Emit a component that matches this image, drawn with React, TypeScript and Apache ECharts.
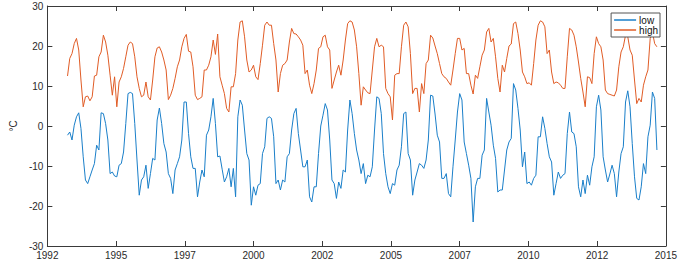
import React, { useEffect, useRef } from "react";
import * as echarts from "echarts";

// Monthly series, first month = Oct 1992
const startYear = 1992;
const startMonthOffset = 9; // months after Jan 1992

const xTickStart = 1992;
const xTickEnd = 2015;
const xTickCount = 9; // intervals

const yTicks = [-30, -20, -10, 0, 10, 20, 30];

const seriesNames = ["low", "high"];

const low = [
  -2.3, -1.5, -3.5, 0.2, 2.3, 3.3, -0.6, -7.7, -13.5, -14.4, -12.7, -11, -9.4, -4.8, -6, 3.3, 3.1, 0.6, -3.5, -11.9, -11.5, -12.5, -12.7, -9.8, -9.4, -6.5, 0.6, 8.1, 8.4, 8.1, 0.6, -8.5, -17.3,
  -13.5, -12.7, -9.8, -15.6, -11.9, -8.1, -8.5, 1.5, 4.5, 0.6, -4.4, -6.5, -11.9, -13.1, -16.9, -11, -9.4, -7.7, -3.5, 6, 6, -1.9, -7.7, -10.6, -10.6, -17.7, -14, -11, -12.7, -2.3, -1, 2.3,
  6.9, 0.6, -7.7, -7.5, -10.8, -14, -12.7, -10.6, -15.2, -10.6, -17.7, 2.3, 6.5, 5.2, -1, -6.9, -8.5, -19.8, -15.2, -17.3, -14.8, -14.4, -6.9, -5.2, 1.9, 2.3, 1.9, -2.7, -14.4, -13.5, -16, -13.5, -14, -7.7,
  -6.9, -1, 3.1, 4.4, -1.9, -6, -10.2, -10.2, -8.5, -17.7, -19, -15.2, -15.2, -6.9, 0, 2.7, 5.6, 4, -3.5, -13.5, -14.4, -18.1, -14, -15.6, -11, -11.5, -1, 6.5, 3.1, -1.9, -6, -8.5, -11.9,
  -9.4, -14.4, -12.3, -12.7, -10.2, -1, 7.3, 6.9, 3.1, -6.9, -11.9, -15.2, -16.9, -14.4, -14.8, -11, -9.8, -5.2, 3.1, 3.5, -6.9, -8.5, -17.3, -13.5, -11.5, -9.4, -9.8, -10.6, -8.5, -3.5, 7.7, 7.5, 3,
  -2.3, -4, -13.1, -13.1, -11.9, -16.9, -17.7, -10.2, -3.5, 3.5, 8.1, 6.5, -4, -6.9, -9.8, -13.1, -24, -15.2, -13.1, -13.1, -7.3, -6, 6.9, 3.5, 0.2, -4.8, -8.1, -16.5, -16, -16, -11, -6, -4,
  -3.1, 10.6, 9, 4.4, -1, -10.2, -6.5, -14.4, -14, -14.8, -13.1, -12.3, -2.7, -2.7, 2.3, -0.6, -4.4, -7.7, -9, -17.3, -14.4, -11.5, -13.1, -12.3, -11.9, -1.9, 3.5, -1.5, -1.9, -5.2, -15.2, -17.7, -13.5,
  -16.9, -12.3, -14.8, -10.2, -7.7, 4.8, 7.7, 4, -7.7, -11, -14, -12, -9.8, -11.9, -17.7, -11.5, -6.9, -5.2, 6, 8.8, 4.8, -4.4, -12.7, -18.1, -18.5, -15.2, -9.4, -11.9, -2.7, 0.2, 8.5, 6.9, -6,
];

const high = [
  12.5, 16.9, 18.1, 20.6, 21.9, 19, 11.5, 4.8, 7.3, 7.5, 6.3, 7.3, 12.5, 12.7, 17.3, 18.5, 22.7, 21, 17.7, 12.7, 7.7, 12.3, 4.8, 11, 12.3, 14.4, 17.3, 20.2, 21, 20.6, 17.3, 12.3, 9.4,
  7.3, 7.7, 11, 7.3, 6.5, 11.5, 17.3, 19.5, 19.8, 18.5, 16.5, 14, 6.6, 7.7, 9.4, 11.9, 14.8, 16.5, 19.8, 21.9, 22.9, 18.7, 18.5, 14.8, 7.7, 6.6, 6.9, 7.3, 14, 14, 15.2, 17.3,
  21.5, 17.9, 23, 12.3, 10.2, 8.1, 4.4, 3.5, 9.8, 9.8, 13.1, 21.5, 26, 26.3, 22.3, 16.5, 13.5, 14, 15.2, 12.3, 11.6, 15.6, 20.2, 25.2, 26, 25.2, 25.2, 20.6, 16.5, 8.5, 13.1, 15.2, 15.6, 16.5,
  21, 24.4, 23.1, 23, 22.3, 21.5, 20.2, 13.1, 14, 10.2, 8.1, 10.6, 14, 19.4, 19.8, 22.3, 22.7, 19.8, 19, 9.4, 11.5, 13.5, 15.2, 12.7, 16.5, 21.5, 25.6, 26.3, 26, 24, 19.8, 13.1, 5.2,
  9.8, 9, 8.3, 8.1, 14, 19.8, 21.9, 19.8, 20.2, 19.8, 9.4, 8.1, 7.3, 1.5, 12.7, 13.1, 13.1, 19.8, 25.2, 26, 24.8, 18.1, 8.1, 9.4, 9.4, 3.5, 10.6, 8.1, 15.6, 16.5, 22.7, 22, 20,
  18.1, 15.6, 13.1, 12.3, 11.9, 11, 10.2, 14, 18.1, 21.9, 21.9, 19, 19.4, 13.1, 13.1, 10.2, 8, 12.7, 11.9, 14.8, 17.7, 19, 23.5, 24.4, 21, 21.9, 17.3, 11.9, 8.5, 15.2, 13.5, 16.9, 20,
  20.5, 25.6, 26, 23.1, 19, 13.5, 12.3, 10.6, 10.8, 10.2, 15.6, 21.5, 25.2, 26.3, 26, 24.8, 18.1, 19, 13.5, 10.6, 11, 10.8, 10.2, 9.4, 9.4, 17.3, 24.4, 24, 22.7, 19.8, 16, 11.9, 8.5,
  4.8, 12.3, 12.1, 10.6, 18.1, 22.3, 20.6, 19.8, 16.5, 9, 8.1, 7.9, 7.7, 7.5, 9, 14.8, 18.5, 19.8, 22.7, 22.3, 19, 17.7, 11.5, 5.6, 6.9, 6, 10.2, 12.3, 14, 21.9, 23.5, 20.6, 19.8,
];

const span = xTickEnd - xTickStart;
// decimal year of each month -> axis units (one unit per tick interval)
const toAxis = (i: number) =>
  ((startYear + (startMonthOffset + i) / 12 - xTickStart) * xTickCount) / span;

const makeData = (vals: number[]) => vals.map((v, i) => [toAxis(i), v]);

const AXIS_COLOR = "#3a3a3a";
const LABEL_COLOR = "#2a2a2a";
const BLUE = "#1a7fc9";
const ORANGE = "#e05c26";
const FONT = "Liberation Sans, Arial, Helvetica, sans-serif";

export default function App() {
  const ref = useRef<HTMLDivElement>(null);
  useEffect(() => {
    if (!ref.current) return;
    const chart = echarts.init(ref.current, undefined, { renderer: "svg" });
    const xCommon = {
      type: "value" as const,
      min: 0,
      max: xTickCount,
      interval: 1,
      axisLine: { show: true, onZero: false, lineStyle: { color: AXIS_COLOR, width: 1 } },
      axisTick: { show: true, inside: true, length: 5, lineStyle: { color: AXIS_COLOR } },
      splitLine: { show: false },
    };
    const yCommon = {
      type: "value" as const,
      min: yTicks[0],
      max: yTicks[yTicks.length - 1],
      interval: 10,
      axisLine: { show: true, onZero: false, lineStyle: { color: AXIS_COLOR, width: 1 } },
      axisTick: { show: true, inside: true, length: 5, lineStyle: { color: AXIS_COLOR } },
      splitLine: { show: false },
    };
    chart.setOption({
      animation: false,
      backgroundColor: "#ffffff",
      textStyle: { fontFamily: FONT },
      grid: { left: 34, right: 14, top: 6, bottom: 15, containLabel: false },
      legend: {
        show: true,
        data: seriesNames,
        orient: "vertical",
        right: 20,
        top: 13,
        icon: "rect",
        itemWidth: 22,
        itemHeight: 1.5,
        itemGap: 0,
        padding: [2, 2, 2, 3],
        borderColor: "#555555",
        borderWidth: 1,
        backgroundColor: "#ffffff",
        textStyle: { fontSize: 10, color: "#111111", lineHeight: 9, padding: [0, 0, 0, -2] },
      },
      xAxis: [
        {
          ...xCommon,
          position: "bottom",
          axisLabel: {
            show: true,
            color: LABEL_COLOR,
            fontSize: 10,
            margin: 4,
            formatter: (v: number) => String(Math.round(xTickStart + (v * span) / xTickCount)),
          },
        },
        { ...xCommon, position: "top", axisLabel: { show: false } },
      ],
      yAxis: [
        {
          ...yCommon,
          position: "left",
          name: "°C",
          nameLocation: "middle",
          nameRotate: 90,
          nameGap: 27,
          nameTextStyle: { fontSize: 10, color: LABEL_COLOR },
          axisLabel: { show: true, color: LABEL_COLOR, fontSize: 10, margin: 4 },
        },
        { ...yCommon, position: "right", axisLabel: { show: false } },
      ],
      series: [
        {
          name: seriesNames[0],
          type: "line",
          data: makeData(low),
          showSymbol: false,
          symbol: "none",
          lineStyle: { color: BLUE, width: 1 },
          itemStyle: { color: BLUE },
        },
        {
          name: seriesNames[1],
          type: "line",
          data: makeData(high),
          showSymbol: false,
          symbol: "none",
          lineStyle: { color: ORANGE, width: 1 },
          itemStyle: { color: ORANGE },
        },
      ],
    });
    return () => chart.dispose();
  }, []);
  return (
    <div
      ref={ref}
      style={{ position: "absolute", left: 0, top: 0, width: 680, height: 261 }}
    />
  );
}
